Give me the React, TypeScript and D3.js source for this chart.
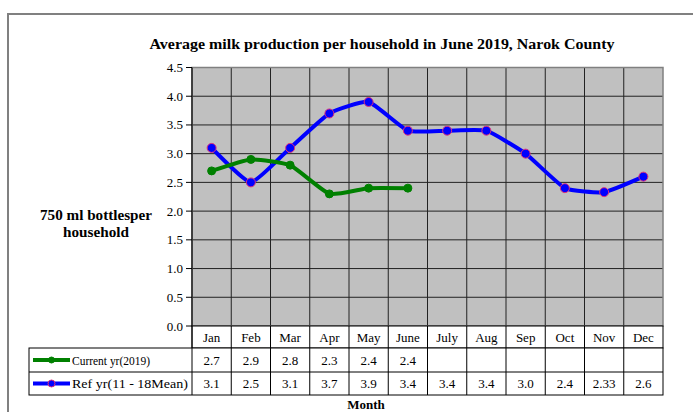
import React from 'react';
import * as d3 from 'd3';

const months = ['Jan', 'Feb', 'Mar', 'Apr', 'May', 'June', 'July', 'Aug', 'Sep', 'Oct', 'Nov', 'Dec'];
const currentYr = [2.7, 2.9, 2.8, 2.3, 2.4, 2.4];
const refYr = [3.1, 2.5, 3.1, 3.7, 3.9, 3.4, 3.4, 3.4, 3.0, 2.4, 2.33, 2.6];
const refLabels = ['3.1', '2.5', '3.1', '3.7', '3.9', '3.4', '3.4', '3.4', '3.0', '2.4', '2.33', '2.6'];
const yTicks = [0, 0.5, 1, 1.5, 2, 2.5, 3, 3.5, 4, 4.5];

const series = [
  { name: 'Current yr(2019)', values: currentYr, labels: currentYr.map(v => v.toFixed(1)), color: '#008000', marker: '#008000', r: 4 },
  { name: 'Ref yr(11 - 18Mean)', values: refYr, labels: refLabels, color: '#0000ff', marker: '#e0307a', r: 4.5 },
];

const App = () => {
  const W = 693;
  const H = 412;
  const left = 192;
  const right = 663;
  const top = 67.5;
  const bottom = 326;
  const tableLeft = 29;
  const rowH = [326, 348, 372, 395];

  const x = d3.scaleBand<string>().domain(months).range([left, right]);
  const y = d3.scaleLinear().domain([0, 4.5]).range([bottom, top]);
  const cx = (i: number) => (x(months[i]) as number) + x.bandwidth() / 2;

  // smoothed like the spreadsheet line
  const line = d3
    .line<number>()
    .x((_, i) => cx(i))
    .y(d => y(d))
    .curve(d3.curveCardinal.tension(0.55));

  const font = "'Liberation Serif', serif";

  return (
    <svg width={W} height={H} style={{ position: 'absolute', left: 0, top: 0, background: '#fff', fontFamily: font }}>
      {/* outer frame */}
      <rect x={8} y={14} width={W + 10} height={H + 10} fill="none" stroke="#808080" strokeWidth={2} />

      <text x={382} y={49} textAnchor="middle" fontSize={15} fontWeight="bold" textLength={465} lengthAdjust="spacingAndGlyphs">
        Average milk production per household in June 2019, Narok County
      </text>

      {/* plot area */}
      <rect x={left} y={top} width={right - left} height={bottom - top} fill="#c0c0c0" />
      {yTicks.map(t => (
        <line key={'h' + t} x1={left} x2={right} y1={y(t)} y2={y(t)} stroke="#222" strokeWidth={1} />
      ))}
      {months.map(m => (
        <line key={'v' + m} x1={x(m)} x2={x(m)} y1={top} y2={bottom} stroke="#222" strokeWidth={1} />
      ))}
      <rect x={left} y={top} width={right - left} height={bottom - top} fill="none" stroke="#808080" strokeWidth={1.5} />

      {/* y axis */}
      <line x1={left} x2={left} y1={top} y2={bottom} stroke="#000" />
      {yTicks.map(t => (
        <g key={'t' + t}>
          <line x1={left - 6} x2={left} y1={y(t)} y2={y(t)} stroke="#000" />
          <text x={183} y={y(t) + 4.5} textAnchor="end" fontSize={13}>
            {d3.format('.1f')(t)}
          </text>
        </g>
      ))}
      <text x={96} y={220} textAnchor="middle" fontSize={14} fontWeight="bold" textLength={112} lengthAdjust="spacingAndGlyphs">750 ml bottlesper</text>
      <text x={96} y={237} textAnchor="middle" fontSize={14} fontWeight="bold" textLength={66} lengthAdjust="spacingAndGlyphs">household</text>

      {/* lines */}
      {series.slice().reverse().map(s => (
        <g key={s.name}>
          <path d={line(s.values) || ''} fill="none" stroke={s.color} strokeWidth={4} />
          {s.values.map((v, i) => (
            <circle key={i} cx={cx(i)} cy={y(v)} r={s.r} fill={s.color} stroke={s.marker} strokeWidth={1} />
          ))}
        </g>
      ))}

      {/* data table */}
      <rect x={left} y={rowH[0]} width={right - left} height={rowH[1] - rowH[0]} fill="#fff" stroke="#000" />
      <rect x={tableLeft} y={rowH[1]} width={right - tableLeft} height={rowH[3] - rowH[1]} fill="#fff" stroke="#000" />
      <line x1={tableLeft} x2={right} y1={rowH[2]} y2={rowH[2]} stroke="#000" />
      {months.map((m, i) => (
        <g key={'c' + m}>
          <line x1={x(m)} x2={x(m)} y1={rowH[0]} y2={rowH[3]} stroke="#000" />
          <text x={cx(i)} y={342} textAnchor="middle" fontSize={13}>{m}</text>
        </g>
      ))}
      {series.map((s, k) => {
        const yc = (rowH[k + 1] + rowH[k + 2]) / 2;
        return (
          <g key={'row' + s.name}>
            <line x1={33} x2={70} y1={yc} y2={yc} stroke={s.color} strokeWidth={4} />
            <circle cx={51.5} cy={yc} r={s.r - 1} fill={s.color} stroke={s.marker} strokeWidth={1} />
            <text x={72} y={yc + 4.5} fontSize={13} textLength={k === 0 ? 78 : 116} lengthAdjust="spacingAndGlyphs">{s.name}</text>
            {s.labels.map((l, i) => (
              <text key={i} x={cx(i)} y={yc + 4.5} textAnchor="middle" fontSize={13}>{l}</text>
            ))}
          </g>
        );
      })}
      <text x={366} y={409} textAnchor="middle" fontSize={13} fontWeight="bold">Month</text>
    </svg>
  );
};

export default App;
